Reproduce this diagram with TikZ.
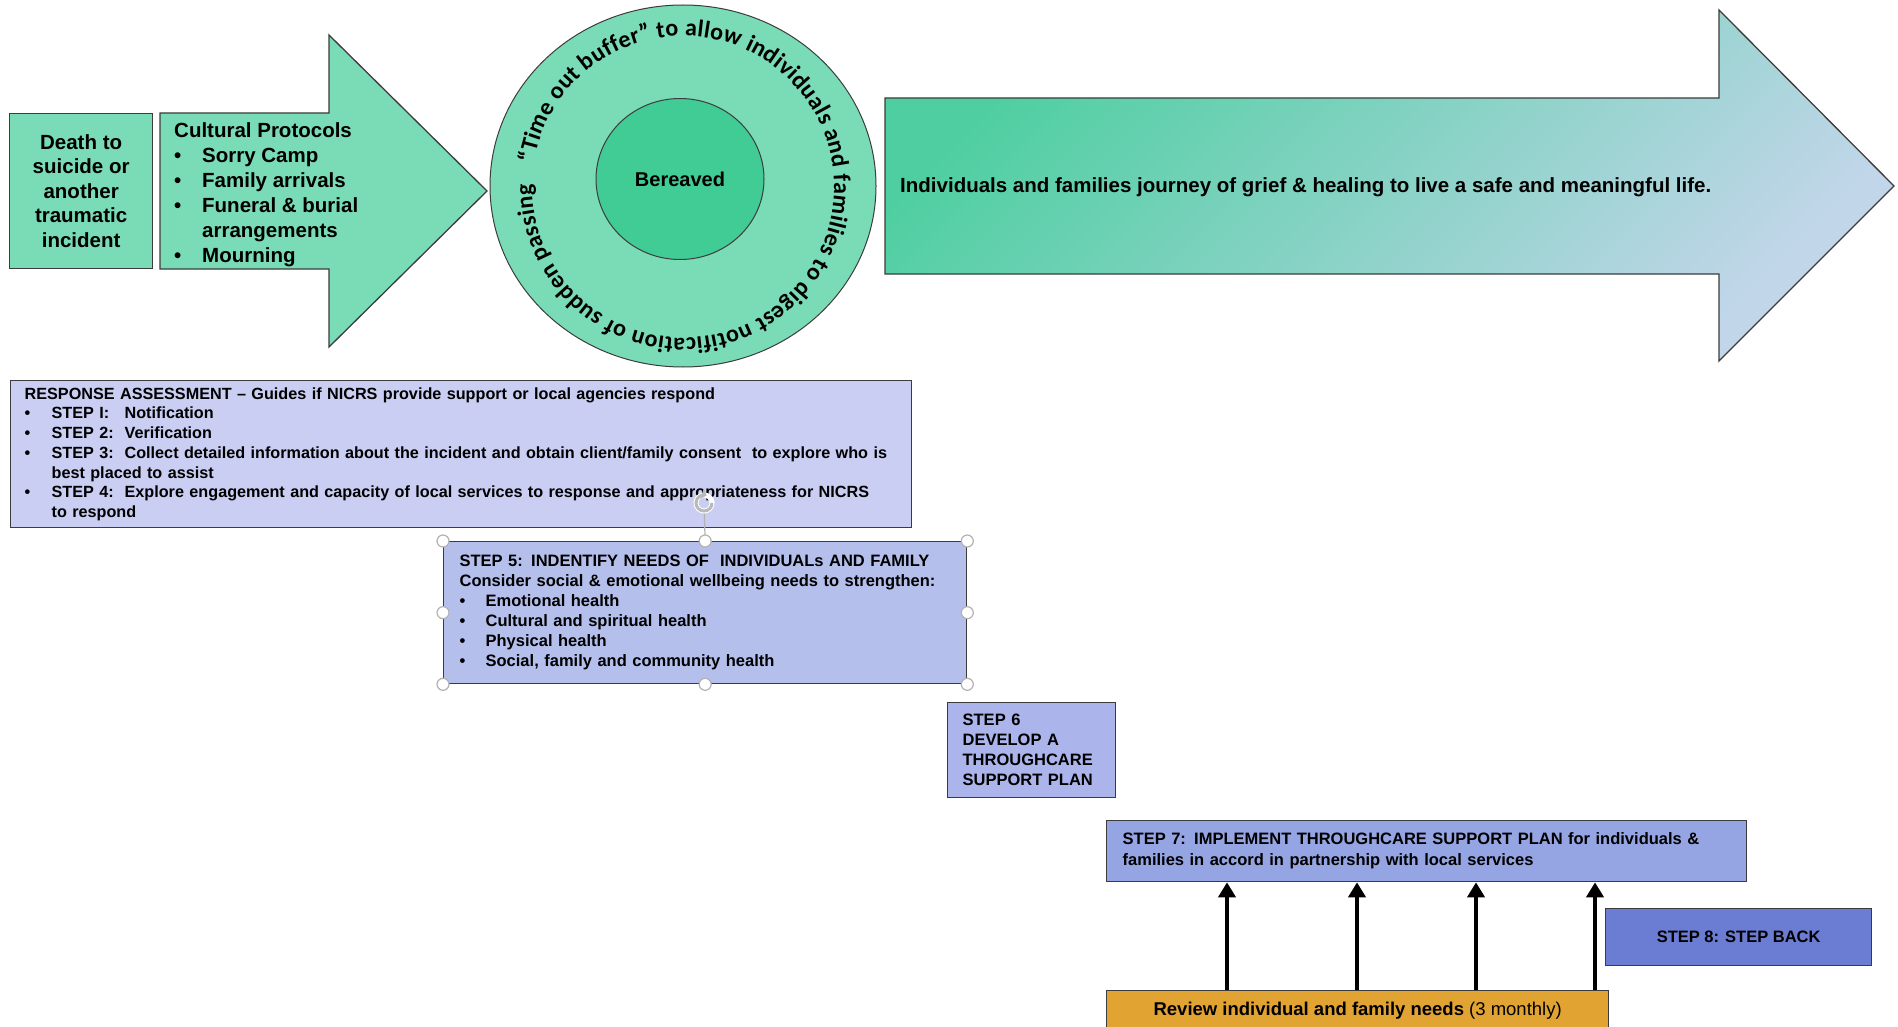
\documentclass[tikz,border=0pt]{standalone}
\usepackage{fontspec}
\setmainfont{Liberation Sans}
\newfontfamily\circfont{Carlito}
\usetikzlibrary{arrows.meta,shapes.geometric,decorations.text}

\definecolor{mint}{HTML}{7ADCB6}
\definecolor{mintdark}{HTML}{41CB95}
\definecolor{journeyA}{HTML}{4FCFA1}
\definecolor{journeyB}{HTML}{C2D6EA}
\definecolor{respfill}{HTML}{C9CEF2}
\definecolor{needsfill}{HTML}{B5BFEC}
\definecolor{planfill}{HTML}{ABB5EB}
\definecolor{implfill}{HTML}{95A4E2}
\definecolor{backfill}{HTML}{6B7DD3}
\definecolor{reviewfill}{HTML}{E1A432}
\definecolor{linegray}{HTML}{3C3C3C}

\newcommand{\bul}[1][28pt]{\makebox[#1][l]{\textbullet}}
\newcommand{\steplbl}[1]{\makebox[73pt][l]{#1}}

\tikzset{
  outline/.style={draw=linegray, line width=1.3pt},
  stepbox/.style={outline, anchor=north west, align=left, inner xsep=15pt, inner ysep=0pt,
    font=\bfseries\fontsize{16.5}{20}\selectfont},
  handle/.style={circle, draw=gray!60, fill=white, line width=1.2pt, inner sep=0pt, minimum size=12pt},
  uparrow/.style={line width=4pt, -{Triangle[width=17pt,length=15pt]}}
}

\begin{document}
\begin{tikzpicture}[x=1pt,y=1pt]
\useasboundingbox (0,0) rectangle (1898,-1027);

% Incident box
\node[outline, fill=mint, anchor=north west, minimum width=143pt, minimum height=155pt,
  align=center, inner sep=0pt, font=\bfseries\fontsize{20.5}{24.5}\selectfont]
  (death) at (9,-113) {Death to\\suicide or\\another\\traumatic\\incident};

% Cultural protocols arrow
\draw[outline, fill=mint] (160,-113) -- (329,-113) -- (329,-35) -- (487,-191)
  -- (329,-347) -- (329,-269) -- (160,-269) -- cycle;
\node[anchor=north west, inner sep=0pt, align=left, font=\bfseries\fontsize{20.5}{25}\selectfont]
  (protocols) at (174,-122) {Cultural Protocols\\\bul Sorry Camp\\\bul Family arrivals\\
  \bul Funeral \& burial\\\hspace*{28pt}arrangements\\\bul Mourning};

% Time out buffer
\node[ellipse, draw=linegray, line width=1pt, fill=mint, minimum width=386pt, minimum height=362pt,
  inner sep=0pt] (buffer) at (683,-186) {};
\node[ellipse, draw=linegray, line width=1pt, fill=mintdark, minimum width=168pt, minimum height=161pt,
  font=\bfseries\fontsize{20}{24}\selectfont] (bereaved) at (680,-179) {Bereaved};
\path[decorate, decoration={text along path, text align={fit to path},
  text={|\circfont\bfseries\fontsize{24}{24}\selectfont|“Time out buffer” to allow individuals and families to digest notification of sudden passing}}]
  (683,-187) ++(171:151) arc[start angle=171, end angle=-181, radius=151];

% Journey arrow
\draw[outline, left color=journeyA, right color=journeyB, shading angle=45]
  (885,-98) -- (1719,-98) -- (1719,-10) -- (1894,-186) -- (1719,-361) -- (1719,-274)
  -- (885,-274) -- cycle;
\node[anchor=west, inner sep=0pt, font=\bfseries\fontsize{20.5}{24}\selectfont] (journey) at (900,-187)
  {Individuals and families journey of grief \& healing to live a safe and meaningful life.};

% Response assessment
\node[stepbox, fill=respfill, text width=873pt, inner xsep=14pt, minimum height=147pt,
  font=\bfseries\fontsize{16.2}{19.7}\selectfont] (response) at (10,-380)
  {RESPONSE ASSESSMENT – Guides if NICRS provide support or local agencies respond\\
  \bul[27pt]\steplbl{STEP I:}Notification\\
  \bul[27pt]\steplbl{STEP 2:}Verification\\
  \bul[27pt]\steplbl{STEP 3:}Collect detailed information about the incident and obtain client/family consent\ \ to explore who is\\
  \hspace*{27pt}best placed to assist\\
  \bul[27pt]\steplbl{STEP 4:}Explore engagement and capacity of local services to response and appropriateness for NICRS\\
  \hspace*{27pt}to respond};

% Step 5 (shown selected)
\node[stepbox, fill=needsfill, text width=491pt, inner xsep=16pt, minimum height=142pt] (needs) at (443,-541)
  {STEP 5: INDENTIFY NEEDS OF\ \ INDIVIDUALs AND FAMILY\\
  Consider social \& emotional wellbeing needs to strengthen:\\
  \bul[26pt]Emotional health\\
  \bul[26pt]Cultural and spiritual health\\
  \bul[26pt]Physical health\\
  \bul[26pt]Social, family and community health};
\node[circle, inner sep=0pt, minimum size=20pt] (rotate) at (704,-503) {};
\draw[gray!60, line width=1.2pt] (rotate) -- (needs.north);
\draw[white, line width=5pt] (rotate.center) circle[radius=8];
\draw[gray!55, line width=3pt, -{Triangle[length=5pt,width=10pt]}]
  (rotate.center) ++(0:8) arc[start angle=0, end angle=-290, radius=8];
\foreach \a in {north west,north,north east,west,east,south west,south,south east}
  \node[handle] at (needs.\a) {};

% Step 6
\node[stepbox, fill=planfill, text width=138pt, minimum height=95pt] (plan) at (947,-702)
  {STEP 6\\DEVELOP A\\THROUGHCARE\\SUPPORT PLAN};

% Step 7
\node[stepbox, fill=implfill, text width=608pt, inner xsep=16pt, minimum height=61pt,
  font=\bfseries\fontsize{16.5}{21}\selectfont] (implement) at (1106,-820)
  {STEP 7: IMPLEMENT THROUGHCARE SUPPORT PLAN for individuals \&\\
  families in accord in partnership with local services};

% Step 8
\node[outline, fill=backfill, anchor=north west, minimum width=266pt, minimum height=57pt,
  font=\bfseries\fontsize{16.5}{20}\selectfont] (stepback) at (1605,-908) {STEP 8: STEP BACK};

% Review
\node[outline, fill=reviewfill, anchor=north west, minimum width=502pt, minimum height=40pt,
  font=\fontsize{18.5}{22}\selectfont] (review) at (1106,-990)
  {\textbf{Review individual and family needs} (3 monthly)};

% Review feeds back into the plan
\foreach \ax in {1227,1357,1476,1595} {
  \coordinate (col) at (\ax,0);
  \draw[uparrow] (col |- review.north) -- (col |- implement.south);
}

\end{tikzpicture}
\end{document}
